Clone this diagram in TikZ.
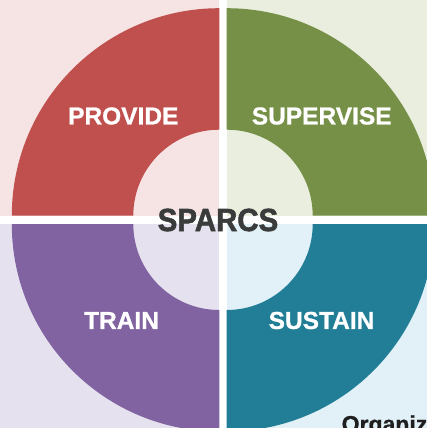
\documentclass[tikz,border=0pt]{standalone}
\usepackage{fontspec}
\setmainfont{Liberation Sans}
\newfontfamily\labfont[FakeBold=0.8]{Liberation Sans Bold}
\newfontfamily\heavyfont[FakeBold=1.8]{Liberation Sans Bold}
\definecolor{cred}{HTML}{C0504D}
\definecolor{cgreen}{HTML}{769047}
\definecolor{cteal}{HTML}{227E97}
\definecolor{cpurple}{HTML}{8063A0}
\definecolor{bred}{HTML}{F6E4E4}
\definecolor{bgreen}{HTML}{EAEEDE}
\definecolor{bpurple}{HTML}{E5E1EE}
\definecolor{bteal}{HTML}{E2F1F7}
\definecolor{darktext}{HTML}{3A3C3C}
\newcommand\quadring[4]{%
  \fill[#1] (#2,#3) ++(#4:207.5) arc[start angle=#4, delta angle=90, radius=207.5]
    -- ++(#4+270:121.5) arc[start angle=#4+90, delta angle=-90, radius=86] -- cycle;}
\tikzset{
  lab/.style={inner sep=0pt, text=white, font=\fontsize{24.5}{28}\labfont},
  center/.style={inner sep=0pt, text=darktext, font=\fontsize{32}{36}\heavyfont},
  foot/.style={inner sep=0pt, anchor=base west, text=black!88, font=\fontsize{23}{26}\labfont}
}
\begin{document}
\begin{tikzpicture}[x=1pt,y=-1pt]
\useasboundingbox (0,0) rectangle (427,428);
\clip (0,0) rectangle (427,428);
\fill[white] (0,0) rectangle (427,428);
\fill[bred] (0,0) rectangle (219.3,215.7);
\fill[bgreen] (226.7,0) rectangle (427,215.7);
\fill[bpurple] (0,224) rectangle (219.3,428);
\fill[bteal] (226.7,224) rectangle (427,428);
\quadring{cred}{219.3}{215.7}{180}
\quadring{cgreen}{226.7}{215.7}{270}
\quadring{cteal}{226.7}{224}{0}
\quadring{cpurple}{219.3}{224}{90}
\node[lab] (provide) at (123.3,116) {PROVIDE};
\node[lab] (supervise) at (321.7,116) {SUPERVISE};
\node[lab] (train) at (121.5,320.5) {TRAIN};
\node[lab] (sustain) at (321.5,320.5) {SUSTAIN};
\node[center] (sparcs) at (218,220) {\scalebox{0.92}[1]{SPARCS}};
\node[foot] (org) at (341.5,432) {Organiz};
\end{tikzpicture}
\end{document}
